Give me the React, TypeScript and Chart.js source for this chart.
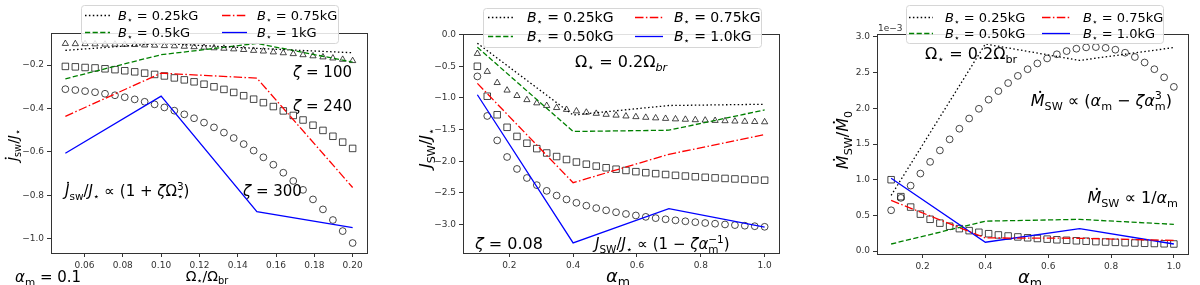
import React, { useEffect, useRef } from 'react';
import { Chart, registerables } from 'chart.js';

Chart.register(...registerables);

// ---------------- Panel 1 : J_sw/J* vs Omega*/Omega_br ----------------
const P1_LINE_X = [0.05, 0.10, 0.15, 0.20];
const P1_B025 = [-0.132, -0.100, -0.123, -0.143];
const P1_B05 = [-0.263, -0.152, -0.100, -0.186];
const P1_B075 = [-0.436, -0.237, -0.260, -0.764];
const P1_B1 = [-0.606, -0.343, -0.875, -0.949];
const P1_MARK_X = [0.0500, 0.0552, 0.0603, 0.0655, 0.0707, 0.0759, 0.0810, 0.0862, 0.0914, 0.0966,
  0.1017, 0.1069, 0.1121, 0.1172, 0.1224, 0.1276, 0.1328, 0.1379, 0.1431, 0.1483,
  0.1534, 0.1586, 0.1638, 0.1690, 0.1741, 0.1793, 0.1845, 0.1897, 0.1948, 0.2000];
const P1_TRI = [-0.101, -0.102, -0.102, -0.103, -0.104, -0.104, -0.105, -0.106, -0.108, -0.109,
  -0.111, -0.112, -0.114, -0.116, -0.118, -0.121, -0.123, -0.126, -0.129, -0.133,
  -0.136, -0.140, -0.144, -0.148, -0.153, -0.158, -0.163, -0.168, -0.174, -0.180];
const P1_SQ = [-0.206, -0.208, -0.211, -0.213, -0.217, -0.221, -0.226, -0.231, -0.237, -0.243,
  -0.250, -0.259, -0.268, -0.277, -0.288, -0.300, -0.312, -0.326, -0.341, -0.357,
  -0.373, -0.391, -0.411, -0.432, -0.453, -0.477, -0.501, -0.528, -0.555, -0.584];
const P1_CIRC = [-0.311, -0.315, -0.320, -0.325, -0.332, -0.339, -0.348, -0.358, -0.369, -0.381,
  -0.395, -0.410, -0.427, -0.445, -0.465, -0.487, -0.511, -0.536, -0.564, -0.594,
  -0.625, -0.659, -0.696, -0.734, -0.775, -0.819, -0.865, -0.914, -0.965, -1.020];
const P1_X_TICKS = [0.06, 0.08, 0.10, 0.12, 0.14, 0.16, 0.18, 0.20];
const P1_Y_TICKS = [-1.0, -0.8, -0.6, -0.4, -0.2];
const P1_LABELS = ['0.25kG', '0.5kG', '0.75kG', '1kG'];

// ---------------- Panel 2 : J_SW/J* vs alpha_m ----------------
const AM_LINE_X = [0.1, 0.4, 0.7, 1.0];
const P2_B025 = [-0.136, -1.27, -1.12, -1.10];
const P2_B050 = [-0.20, -1.53, -1.51, -1.19];
const P2_B075 = [-0.77, -2.34, -1.89, -1.58];
const P2_B10 = [-0.95, -3.29, -2.75, -3.04];
const AM_MARK_X = [0.1000, 0.1310, 0.1621, 0.1931, 0.2241, 0.2552, 0.2862, 0.3172, 0.3483, 0.3793,
  0.4103, 0.4414, 0.4724, 0.5034, 0.5345, 0.5655, 0.5966, 0.6276, 0.6586, 0.6897,
  0.7207, 0.7517, 0.7828, 0.8138, 0.8448, 0.8759, 0.9069, 0.9379, 0.9690, 1.0000];
const P2_TRI = [-0.300, -0.584, -0.760, -0.879, -0.965, -1.030, -1.081, -1.122, -1.155, -1.184,
  -1.208, -1.228, -1.246, -1.262, -1.275, -1.288, -1.299, -1.309, -1.318, -1.326,
  -1.334, -1.340, -1.347, -1.353, -1.358, -1.363, -1.368, -1.372, -1.376, -1.380];
const P2_SQ = [-0.500, -0.973, -1.266, -1.464, -1.608, -1.716, -1.801, -1.870, -1.926, -1.973,
  -2.013, -2.047, -2.077, -2.103, -2.126, -2.146, -2.165, -2.181, -2.196, -2.210,
  -2.223, -2.234, -2.245, -2.254, -2.263, -2.272, -2.280, -2.287, -2.294, -2.300];
const P2_CIRC = [-0.660, -1.285, -1.671, -1.933, -2.122, -2.265, -2.378, -2.468, -2.542, -2.604,
  -2.657, -2.702, -2.741, -2.776, -2.806, -2.833, -2.857, -2.879, -2.899, -2.917,
  -2.934, -2.949, -2.963, -2.976, -2.987, -2.999, -3.009, -3.019, -3.027, -3.036];
const AM_X_TICKS = [0.2, 0.4, 0.6, 0.8, 1.0];
const P2_Y_TICKS = [-3.0, -2.5, -2.0, -1.5, -1.0, -0.5, 0.0];
const P23_LABELS = ['0.25kG', '0.50kG', '0.75kG', '1.0kG'];

// ---------------- Panel 3 : Mdot_SW/Mdot_0 (x 1e-3) vs alpha_m ----------------
const P3_B025 = [0.78, 2.90, 2.67, 2.85];
const P3_B050 = [0.10, 0.42, 0.445, 0.375];
const P3_B075 = [0.71, 0.185, 0.18, 0.15];
const P3_B10 = [1.02, 0.125, 0.315, 0.10];
const P3_CIRC = [0.572, 0.746, 0.917, 1.086, 1.250, 1.410, 1.565, 1.714, 1.857, 1.993,
  2.121, 2.241, 2.353, 2.454, 2.547, 2.628, 2.698, 2.756, 2.801, 2.834,
  2.853, 2.857, 2.846, 2.820, 2.778, 2.718, 2.641, 2.547, 2.433, 2.300];
const P3_SQ = [1.000, 0.763, 0.617, 0.518, 0.446, 0.392, 0.349, 0.315, 0.287, 0.264,
  0.244, 0.227, 0.212, 0.199, 0.187, 0.177, 0.168, 0.159, 0.152, 0.145,
  0.139, 0.133, 0.128, 0.123, 0.118, 0.114, 0.110, 0.107, 0.103, 0.100];
const P3_Y_TICKS = [0.0, 0.5, 1.0, 1.5, 2.0, 2.5, 3.0];

// ---------------- styling ----------------
const FONT = '"DejaVu Sans", sans-serif';
const LW = 1.3;
const DOT = [1.5, 2.4];
const DASH = [5.2, 2.4];
const DASHDOT = [8.5, 2.4, 1.5, 2.4];
const LINE_STYLES = [
  { color: '#000000', dash: DOT },
  { color: '#008000', dash: DASH },
  { color: '#ff0000', dash: DASHDOT },
  { color: '#0000ff', dash: [] as number[] },
];
const MARK_COLOR = 'rgba(0,0,0,0.72)';

type Seg = { t: string; it?: boolean; sub?: boolean; sup?: boolean; dot?: boolean; hold?: boolean };

function drawRich(ctx: CanvasRenderingContext2D, segs: Seg[], x: number, y: number, size: number,
  align: 'left' | 'center' | 'right' = 'left', rot = 0, color = '#000') {
  const fontOf = (s: Seg) => `${s.it ? 'italic ' : ''}${(s.sub || s.sup) ? size * 0.7 : size}px ${FONT}`;
  const ws = segs.map((s) => { ctx.font = fontOf(s); return ctx.measureText(s.t).width; });
  let total = 0;
  for (let i = 0; i < segs.length; i++) {
    if (segs[i].hold && i + 1 < segs.length) { total += Math.max(ws[i], ws[i + 1]); i++; } else total += ws[i];
  }
  ctx.save();
  ctx.translate(x, y);
  ctx.rotate(rot);
  ctx.fillStyle = color;
  ctx.textBaseline = 'alphabetic';
  ctx.textAlign = 'left';
  let cx = align === 'left' ? 0 : align === 'center' ? -total / 2 : -total;
  const draw = (s: Seg, w: number, px: number) => {
    ctx.font = fontOf(s);
    const dy = s.sub ? size * 0.24 : s.sup ? -size * 0.42 : 0;
    ctx.fillText(s.t, px, dy);
    if (s.dot) {
      ctx.beginPath();
      ctx.arc(px + w * 0.68, -size * 0.88, size * 0.07, 0, Math.PI * 2);
      ctx.fill();
    }
  };
  for (let i = 0; i < segs.length; i++) {
    const s = segs[i];
    if (s.hold && i + 1 < segs.length) {
      draw(s, ws[i], cx);
      draw(segs[i + 1], ws[i + 1], cx);
      cx += Math.max(ws[i], ws[i + 1]);
      i++;
    } else {
      draw(s, ws[i], cx);
      cx += ws[i];
    }
  }
  ctx.restore();
}

type TextItem = { segs: Seg[]; x: number; y: number; size: number; align?: 'left' | 'center' | 'right'; rot?: number; color?: string };
type LegendCfg = { x: number; y: number; w: number; h: number; rows: number[]; cols: { l0: number; l1: number; tx: number }[]; size: number; labels: string[] };

type Panel = {
  left: number; width: number;
  yAxisW: number; xAxisH: number; padTop: number; padRight: number;
  xMin: number; xMax: number; yMin: number; yMax: number;
  xTicks: number[]; yTicks: number[]; xDec: number; yDec: number;
  lineX: number[]; lines: number[][];
  markX: number[]; markers: { values: number[]; style: string; r: number }[];
  legend: LegendCfg; texts: TextItem[];
};

const fmt = (v: number, d: number) => (v < -1e-9 ? '\u2212' : '') + Math.abs(v).toFixed(d);

const bLabel = (v: string): Seg[] => [{ t: 'B', it: true }, { t: '\u22C6', sub: true }, { t: ' = ' + v }];

const PANELS: Panel[] = [
  {
    left: 0, width: 400, yAxisW: 51, xAxisH: 32, padTop: 33, padRight: 33,
    xMin: 0.0425, xMax: 0.2075, yMin: -1.066, yMax: -0.052,
    xTicks: P1_X_TICKS, yTicks: P1_Y_TICKS, xDec: 2, yDec: 1,
    lineX: P1_LINE_X, lines: [P1_B025, P1_B05, P1_B075, P1_B1],
    markX: P1_MARK_X,
    markers: [
      { values: P1_TRI, style: 'triangle', r: 3.6 },
      { values: P1_SQ, style: 'rect', r: 4.6 },
      { values: P1_CIRC, style: 'circle', r: 3.4 },
    ],
    legend: { x: 81, y: 5, w: 257, h: 38, rows: [15, 32], cols: [{ l0: 85, l1: 110, tx: 118 }, { l0: 222, l1: 247, tx: 257 }], size: 13, labels: P1_LABELS },
    texts: [
      { segs: [{ t: '\u03B6', it: true }, { t: ' = 100' }], x: 352, y: 77, size: 15, align: 'right' },
      { segs: [{ t: '\u03B6', it: true }, { t: ' = 240' }], x: 352, y: 111, size: 15, align: 'right' },
      { segs: [{ t: '\u03B6', it: true }, { t: ' = 300' }], x: 243, y: 196, size: 15 },
      {
        segs: [{ t: 'J', it: true, dot: true }, { t: 'sw', sub: true }, { t: '/' }, { t: 'J', it: true }, { t: '\u22C6', sub: true },
          { t: ' \u221D (1 + ' }, { t: '\u03B6', it: true }, { t: '\u03A9' }, { t: '\u22C6', sub: true, hold: true }, { t: '3', sup: true }, { t: ')' }],
        x: 65, y: 196, size: 15,
      },
      { segs: [{ t: '\u03B1', it: true }, { t: 'm', sub: true }, { t: ' = 0.1' }], x: 15, y: 282, size: 15 },
      { segs: [{ t: '\u03A9' }, { t: '\u22C6', sub: true }, { t: '/\u03A9' }, { t: 'br', sub: true }], x: 207, y: 281, size: 14, align: 'center' },
      { segs: [{ t: 'J', it: true, dot: true }, { t: 'sw', sub: true }, { t: '/' }, { t: 'J', it: true }, { t: '\u22C6', sub: true }], x: 18, y: 145, size: 14, align: 'center', rot: -Math.PI / 2 },
    ],
  },
  {
    left: 400, width: 400, yAxisW: 63, xAxisH: 32, padTop: 34, padRight: 21,
    xMin: 0.055, xMax: 1.045, yMin: -3.45, yMax: 0.01,
    xTicks: AM_X_TICKS, yTicks: P2_Y_TICKS, xDec: 1, yDec: 1,
    lineX: AM_LINE_X, lines: [P2_B025, P2_B050, P2_B075, P2_B10],
    markX: AM_MARK_X,
    markers: [
      { values: P2_TRI, style: 'triangle', r: 3.6 },
      { values: P2_SQ, style: 'rect', r: 4.6 },
      { values: P2_CIRC, style: 'circle', r: 3.4 },
    ],
    legend: { x: 83, y: 8, w: 278, h: 39, rows: [17, 36], cols: [{ l0: 88, l1: 113, tx: 127 }, { l0: 235, l1: 263, tx: 274 }], size: 14, labels: P23_LABELS },
    texts: [
      { segs: [{ t: '\u03A9' }, { t: '\u22C6', sub: true }, { t: ' = 0.2\u03A9' }, { t: 'br', sub: true, it: true }], x: 175, y: 67, size: 16 },
      { segs: [{ t: '\u03B6', it: true }, { t: ' = 0.08' }], x: 75, y: 249, size: 16 },
      {
        segs: [{ t: 'J', it: true }, { t: 'SW', sub: true }, { t: '/' }, { t: 'J', it: true }, { t: '\u22C6', sub: true },
          { t: ' \u221D (1 \u2212 ' }, { t: '\u03B6\u03B1', it: true }, { t: 'm', sub: true, hold: true }, { t: '\u22121', sup: true }, { t: ')' }],
        x: 195, y: 249, size: 15,
      },
      { segs: [{ t: '\u03B1', it: true }, { t: 'm', sub: true }], x: 218, y: 282, size: 18, align: 'center' },
      { segs: [{ t: 'J', it: true }, { t: 'SW', sub: true }, { t: '/' }, { t: 'J', it: true }, { t: '\u22C6', sub: true }], x: 31, y: 148, size: 16, align: 'center', rot: -Math.PI / 2 },
    ],
  },
  {
    left: 800, width: 400, yAxisW: 77, xAxisH: 31, padTop: 34, padRight: 12,
    xMin: 0.055, xMax: 1.045, yMin: -0.04, yMax: 3.04,
    xTicks: AM_X_TICKS, yTicks: P3_Y_TICKS, xDec: 1, yDec: 1,
    lineX: AM_LINE_X, lines: [P3_B025, P3_B050, P3_B075, P3_B10],
    markX: AM_MARK_X,
    markers: [
      { values: P3_SQ, style: 'rect', r: 4.6 },
      { values: P3_CIRC, style: 'circle', r: 3.4 },
    ],
    legend: { x: 106, y: 5, w: 257, h: 38, rows: [17, 33], cols: [{ l0: 109, l1: 133, tx: 145 }, { l0: 242, l1: 270, tx: 283 }], size: 13, labels: P23_LABELS },
    texts: [
      { segs: [{ t: '\u03A9' }, { t: '\u22C6', sub: true }, { t: ' = 0.2\u03A9' }, { t: 'br', sub: true }], x: 125, y: 59, size: 16 },
      {
        segs: [{ t: 'M', it: true, dot: true }, { t: 'SW', sub: true }, { t: ' \u221D (' }, { t: '\u03B1', it: true }, { t: 'm', sub: true },
          { t: ' \u2212 ' }, { t: '\u03B6\u03B1', it: true }, { t: 'm', sub: true, hold: true }, { t: '3', sup: true }, { t: ')' }],
        x: 372, y: 106, size: 16, align: 'right',
      },
      { segs: [{ t: 'M', it: true, dot: true }, { t: 'SW', sub: true }, { t: ' \u221D 1/' }, { t: '\u03B1', it: true }, { t: 'm', sub: true }], x: 378, y: 203, size: 16, align: 'right' },
      { segs: [{ t: '1e\u22123' }], x: 78, y: 31, size: 9, color: '#333' },
      { segs: [{ t: '\u03B1', it: true }, { t: 'm', sub: true }], x: 230, y: 283, size: 18, align: 'center' },
      { segs: [{ t: 'M', it: true, dot: true }, { t: 'SW', sub: true }, { t: '/' }, { t: 'M', it: true, dot: true }, { t: '0', sub: true }], x: 48, y: 140, size: 16, align: 'center', rot: -Math.PI / 2 },
    ],
  },
];

function roundRect(ctx: CanvasRenderingContext2D, x: number, y: number, w: number, h: number, r: number) {
  ctx.beginPath();
  ctx.moveTo(x + r, y);
  ctx.lineTo(x + w - r, y);
  ctx.arcTo(x + w, y, x + w, y + r, r);
  ctx.lineTo(x + w, y + h - r);
  ctx.arcTo(x + w, y + h, x + w - r, y + h, r);
  ctx.lineTo(x + r, y + h);
  ctx.arcTo(x, y + h, x, y + h - r, r);
  ctx.lineTo(x, y + r);
  ctx.arcTo(x, y, x + r, y, r);
  ctx.closePath();
}

function overlayPlugin(p: Panel) {
  return {
    id: 'overlay',
    afterDatasetsDraw(chart: any) {
      const ctx: CanvasRenderingContext2D = chart.ctx;
      const a = chart.chartArea;
      ctx.save();
      ctx.strokeStyle = '#333';
      ctx.lineWidth = 1;
      ctx.setLineDash([]);
      const l = Math.round(a.left) + 0.5, t = Math.round(a.top) + 0.5;
      const r = Math.round(a.right) + 0.5, b = Math.round(a.bottom) + 0.5;
      ctx.strokeRect(l, t, r - l, b - t);
      ctx.restore();
    },
    afterDraw(chart: any) {
      const ctx: CanvasRenderingContext2D = chart.ctx;
      for (const tx of p.texts) {
        drawRich(ctx, tx.segs, tx.x, tx.y, tx.size, tx.align || 'left', tx.rot || 0, tx.color || '#000');
      }
      const lg = p.legend;
      ctx.save();
      roundRect(ctx, lg.x + 0.5, lg.y + 0.5, lg.w, lg.h, 3);
      ctx.fillStyle = 'rgba(255,255,255,0.85)';
      ctx.fill();
      ctx.strokeStyle = '#d6d6d6';
      ctx.lineWidth = 1;
      ctx.stroke();
      lg.labels.forEach((lab, i) => {
        const row = i % 2;
        const col = Math.floor(i / 2);
        const st = LINE_STYLES[i];
        const y = lg.rows[row];
        const c = lg.cols[col];
        ctx.save();
        ctx.strokeStyle = st.color;
        ctx.lineWidth = LW;
        ctx.setLineDash(st.dash);
        ctx.beginPath();
        ctx.moveTo(c.l0, y + 0.5);
        ctx.lineTo(c.l1, y + 0.5);
        ctx.stroke();
        ctx.restore();
        drawRich(ctx, bLabel(lab), c.tx, y + lg.size * 0.36, lg.size, 'left');
      });
      ctx.restore();
    },
  };
}

function buildConfig(p: Panel): any {
  const lineSets = p.lines.map((vals, i) => ({
    label: p.legend.labels[i],
    data: p.lineX.map((x, k) => ({ x, y: vals[k] })),
    showLine: true,
    borderColor: LINE_STYLES[i].color,
    borderDash: LINE_STYLES[i].dash,
    borderWidth: LW,
    pointRadius: 0,
    pointHoverRadius: 0,
    fill: false,
    tension: 0,
  }));
  const markSets = p.markers.map((m) => ({
    label: m.style,
    data: p.markX.map((x, k) => ({ x, y: m.values[k] })),
    showLine: false,
    pointStyle: m.style,
    pointRadius: m.r,
    pointBorderWidth: 1,
    pointBorderColor: MARK_COLOR,
    pointBackgroundColor: 'rgba(0,0,0,0)',
    borderColor: MARK_COLOR,
    backgroundColor: 'rgba(0,0,0,0)',
  }));
  const tickFont = { size: 9, family: FONT };
  return {
    type: 'scatter',
    data: { datasets: [...lineSets, ...markSets] },
    options: {
      animation: false,
      responsive: false,
      devicePixelRatio: 1,
      events: [],
      layout: { padding: { left: 0, right: p.padRight, top: p.padTop, bottom: 0 } },
      plugins: { legend: { display: false }, tooltip: { enabled: false }, title: { display: false } },
      scales: {
        x: {
          type: 'linear',
          min: p.xMin,
          max: p.xMax,
          afterFit: (s: any) => { s.height = p.xAxisH; },
          afterBuildTicks: (s: any) => { s.ticks = p.xTicks.map((v) => ({ value: v })); },
          ticks: { callback: (v: any) => fmt(Number(v), p.xDec), font: tickFont, color: '#333', padding: 3, autoSkip: false, maxRotation: 0 },
          grid: { display: true, drawOnChartArea: false, drawTicks: true, tickLength: 4, color: '#333' },
          border: { display: false },
        },
        y: {
          type: 'linear',
          min: p.yMin,
          max: p.yMax,
          afterFit: (s: any) => { s.width = p.yAxisW; },
          afterBuildTicks: (s: any) => { s.ticks = p.yTicks.map((v) => ({ value: v })); },
          ticks: { callback: (v: any) => fmt(Number(v), p.yDec), font: tickFont, color: '#333', padding: 3, autoSkip: false },
          grid: { display: true, drawOnChartArea: false, drawTicks: true, tickLength: 4, color: '#333' },
          border: { display: false },
        },
      },
    },
    plugins: [overlayPlugin(p)],
  };
}

function PanelChart({ p }: { p: Panel }) {
  const ref = useRef<HTMLCanvasElement | null>(null);
  useEffect(() => {
    if (!ref.current) return;
    const chart = new Chart(ref.current, buildConfig(p));
    return () => chart.destroy();
  }, [p]);
  return (
    <canvas
      ref={ref}
      width={p.width}
      height={285}
      style={{ position: 'absolute', left: p.left, top: 0, width: p.width, height: 285, display: 'block' }}
    />
  );
}

export default function App() {
  return (
    <div style={{ position: 'absolute', left: 0, top: 0, width: 1200, height: 285, background: '#fff', overflow: 'hidden' }}>
      {PANELS.map((p, i) => <PanelChart key={i} p={p} />)}
    </div>
  );
}
